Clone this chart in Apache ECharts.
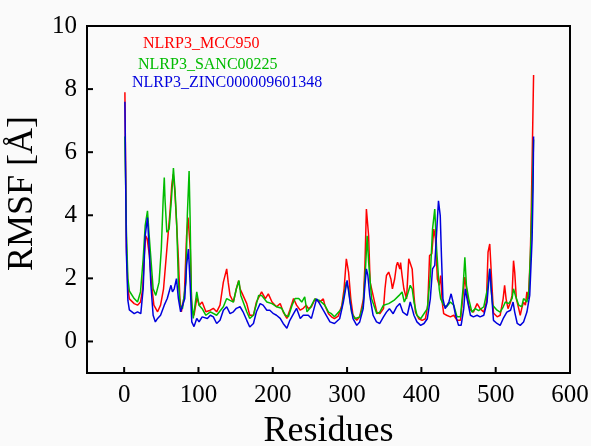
<!DOCTYPE html>
<html>
<head>
<meta charset="utf-8">
<script src="https://cdn.jsdelivr.net/npm/echarts@6/dist/echarts.min.js"></script>
<style>
  html, body { margin: 0; padding: 0; background: #fafafa; }
  #chart { width: 591px; height: 446px; }
</style>
</head>
<body>
<div id="chart"></div>
<script>
// RMSF per residue
var mccRes = [1,3,5,7,9,13.5,18,22,25,27,29,31,34,36,38,40,45,49,53,56,59,62,64,66,68,70,73,75,77,81,84,86,89,91,94,98,101,105,110,116,
  120,124.5,129,133.5,138,140,142.5,147,151,154,156,160,165,169,174,178,185,190,194,199,205,210,214,219,223,228,232,237,241,245,
  248,252,257,259,263,268,270,275,279,283,288,293,296,299,300.6,302,305,308,313,317,322,324,326,327.5,329,331,335,340,344,349,351,353,356,359,361,364,366.5,368,371,
  372,374,376.4,380,383,385,387.6,390,392,396.5,401,405.5,408.6,411,414,416.7,419,421.5,424,426,428,430,434,439,443.6,448,452.6,456,458.5,460.6,463.7,466,470,475,479,484,487.5,489.7,492,494,
  497,502,506,510,512,514,516.6,520,522,524,525.6,527.8,531,533,535,537.5,540,542,544,546.6,548,551];
var mccRmsf = [7.9,3.0,1.7,1.35,1.30,1.2,1.15,1.25,1.67,2.72,3.35,3.25,2.72,2.09,1.57,1.15,0.94,1.15,1.67,2.51,3.35,4.2,4.93,5.3,4.83,4.0,2.62,1.36,0.94,1.46,3.35,3.93,2.93,1.04,0.83,1.4,1.15,1.25,0.94,0.99,
  1.05,0.94,1.15,1.88,2.3,1.88,1.46,1.25,1.67,1.93,1.67,1.46,1.2,0.83,0.83,1.25,1.57,1.36,1.51,1.25,1.1,1.2,0.94,0.73,1.0,1.36,1.15,0.99,1.05,1.15,
  1.04,1.1,1.35,1.4,1.25,1.35,1.15,0.88,0.78,0.72,0.8,1.15,1.67,2.62,2.67,2.2,1.35,0.83,0.67,0.78,1.35,2.41,4.2,4.25,3.35,1.88,1.46,0.93,0.88,1.04,1.67,2.09,2.2,1.98,1.67,1.98,2.41,2.51,2.3,
  2.5,2.09,1.67,1.35,2.62,2.57,2.3,1.46,0.93,0.72,0.67,0.72,1.15,2.72,2.78,3.56,3.25,1.98,1.78,2.09,1.25,0.88,0.83,0.78,0.83,0.67,0.67,1.46,2.04,1.67,1.15,1.0,0.93,1.2,1.04,0.93,1.25,2.83,3.09,2.2,
  0.9,0.78,0.83,1.35,1.78,1.35,1.04,1.25,1.46,2.56,2.2,1.35,1.04,0.83,1.04,1.25,1.15,1.57,1.35,2.72,4.3,8.45];

var sancRes = [1,3,5,7,9,13.5,18,22,25.6,28.3,31.4,33.7,36,39,42.6,47,50,52.5,54,55,57.4,60.5,63.6,66.3,68.6,70.8,73,75.3,78.5,83,85,87.4,88.7,90.5,93,97.7,100.8,105,110,116,
  124.5,133.5,138,142.5,147,151,154.5,157,165,169,174,181,185,192,199,205,212,217,221,226,230,235,239,243,246,250,
  256.7,263,270,275,279,283,292.6,299,302,306,310.5,317,321.7,325,327,329,333,340,344,349,356,363,370,374,377,
  381,385,387.6,390,394,399,408,412,415,418,420.5,424,426,430,434,439,443.6,448,452.6,456,458.5,460.6,463.7,468,472.6,477,484,489,492,494,
  496,501.8,506,510,513,517.5,522,524,526.5,531,535,537.5,542,545,547.5,549.4,551];
var sancRmsf = [6.5,3.5,2.0,1.6,1.57,1.36,1.25,1.57,2.62,3.67,4.14,3.35,2.62,1.67,1.46,1.88,2.93,4.5,5.2,4.5,3.46,3.56,4.5,5.5,4.72,3.67,1.88,1.15,1.04,1.88,3.98,5.4,3.98,1.36,0.73,1.57,1.15,1.04,0.83,0.94,
  0.83,1.1,1.36,1.3,1.25,1.67,1.93,1.46,0.94,0.73,0.83,1.46,1.46,1.25,1.2,1.1,1.05,0.83,0.78,1.15,1.36,1.36,1.25,1.41,0.94,1.05,
  1.35,1.3,1.15,0.93,0.88,0.78,1.04,1.88,1.67,0.93,0.72,0.78,1.15,2.41,3.35,2.51,1.35,0.88,0.93,1.15,1.2,1.3,1.46,1.57,1.25,
  1.46,1.78,1.67,1.25,0.83,0.72,1.04,2.09,3.56,4.2,2.93,1.67,1.35,1.15,1.1,1.25,1.15,0.78,0.78,1.67,2.67,1.78,1.35,0.93,1.04,0.98,1.1,1.67,2.3,1.6,
  1.15,0.99,0.93,1.09,1.25,1.2,1.36,1.67,1.46,1.15,1.1,1.36,1.25,1.67,3.25,4.83,6.4];

var zincRes = [1,3,5,7,9,13.5,18,22.4,25.6,28.3,31.4,33.7,36,39,42,45,49,54,58,63,65,67.4,70.4,73,76,78.5,81.6,84,86.5,88.7,91,94,97.7,100.8,105,112,116,
  120,124.5,129,133.5,138,142.5,147,151,156,160,165,169,174,178,183,187,192,196,201,205,210,214,219,223,228,232,237,241,245,
  247.8,252,259,263,268,272,277,283,290,295,300,304,308,313,317,321.7,324,326,328,330.5,335,339.6,344,349,353,357,362,366.5,371,375,
  376.4,381,385,387.6,390,394,399,403.5,408,412,415,418,420.5,423,425.4,427,429,432,437,440,442.6,446,450,453.5,457,459,461.5,466,470,475,479,484,488.4,492,494,
  497,501.8,506,510,515,520,523.4,525.6,529,533,537.5,540,542,545.8,549,550.3,551];
var zincRmsf = [7.6,2.8,1.3,1.0,0.94,0.88,0.94,0.88,1.67,3.35,3.93,2.93,1.78,0.83,0.62,0.73,0.83,1.15,1.36,1.78,1.57,1.67,1.99,1.36,0.94,0.88,1.36,2.41,2.93,1.88,0.62,0.47,0.73,0.62,0.78,0.73,0.83,
  0.78,0.57,0.67,0.99,1.1,0.88,0.94,1.05,1.1,0.94,0.67,0.46,0.57,0.94,1.2,1.15,0.99,0.99,0.88,0.83,0.73,0.57,0.42,0.67,0.88,1.05,0.73,0.83,0.83,
  0.83,0.73,1.35,1.2,0.99,0.83,0.62,0.57,0.72,1.25,1.94,1.25,0.72,0.51,0.62,1.04,1.78,2.3,2.09,1.46,0.83,0.62,0.57,0.78,0.93,1.04,0.88,1.09,1.2,0.93,
  0.93,0.83,1.25,1.04,0.83,0.62,0.51,0.57,0.72,1.35,2.3,2.41,3.46,4.46,3.98,2.72,1.35,1.04,1.25,1.51,1.25,0.83,0.51,0.51,1.04,1.67,1.35,0.83,0.78,0.83,0.78,0.83,1.25,2.3,1.67,
  0.67,0.57,0.51,0.72,0.93,0.99,1.25,0.93,0.57,0.51,0.62,0.57,0.93,1.46,3.25,4.83,6.5];

// axis ranges and tick values
var xMin = -50, xMax = 600;
var yMin = -1, yMax = 10;
var xTicks = [0, 100, 200, 300, 400, 500, 600];
var yTicks = [0, 2, 4, 6, 8, 10];

function pairs(xs, ys) {
    return xs.map(function (x, i) { return [x, ys[i]]; });
}

var font = '"Liberation Serif", "Times New Roman", serif';
var tickLen = 6;

// inward tick marks, placed through the axes' own scale
function tickSeries(values, horizontal) {
    return {
        type: 'custom', silent: true, clip: false, z: 5,
        data: values.map(function (v) { return horizontal ? [v, yMin] : [xMin, v]; }),
        renderItem: function (params, api) {
            var p = api.coord([api.value(0), api.value(1)]);
            return {
                type: 'line',
                shape: horizontal
                    ? { x1: p[0], y1: p[1], x2: p[0], y2: p[1] - tickLen }
                    : { x1: p[0], y1: p[1], x2: p[0] + tickLen, y2: p[1] },
                style: { stroke: '#000', lineWidth: 2 }
            };
        }
    };
}

var myChart = echarts.init(document.getElementById('chart'));
var option = {
    backgroundColor: '#fafafa',
    animation: false,
    grid: { left: 87, right: 21, top: 26, bottom: 73, outerBoundsMode: 'none',
            show: true, backgroundColor: 'transparent', borderColor: '#000', borderWidth: 2 },
    legend: [
        { data: ['NLRP3_MCC950'], left: 138, top: 36, icon: 'none', itemWidth: 0, itemHeight: 4, padding: 0, selectedMode: false,
          textStyle: { color: '#ff0000', fontFamily: font, fontSize: 16 } },
        { data: ['NLRP3_SANC00225'], left: 133, top: 57, icon: 'none', itemWidth: 0, itemHeight: 4, padding: 0, selectedMode: false,
          textStyle: { color: '#00bb00', fontFamily: font, fontSize: 16 } },
        { data: ['NLRP3_ZINC000009601348'], left: 127, top: 75, icon: 'none', itemWidth: 0, itemHeight: 4, padding: 0, selectedMode: false,
          textStyle: { color: '#0000dd', fontFamily: font, fontSize: 16 } }
    ],
    xAxis: {
        type: 'value', min: xMin, max: xMax,
        name: 'Residues', nameLocation: 'middle', nameGap: 41,
        nameTextStyle: { fontFamily: font, fontSize: 36, color: '#000' },
        axisLine: { onZero: false, lineStyle: { color: '#000', width: 2 } },
        axisTick: { show: false },
        axisLabel: { customValues: xTicks, margin: 10, fontFamily: font, fontSize: 25, color: '#000' },
        splitLine: { show: false }
    },
    yAxis: {
        type: 'value', min: yMin, max: yMax,
        name: 'RMSF [Å]', nameLocation: 'middle', nameGap: 46,
        nameTextStyle: { fontFamily: font, fontSize: 36, color: '#000', padding: [0, 0, 0, 12] },
        axisLine: { onZero: false, lineStyle: { color: '#000', width: 2 } },
        axisTick: { show: false },
        axisLabel: { customValues: yTicks, margin: 10, fontFamily: font, fontSize: 25, color: '#000' },
        splitLine: { show: false }
    },
    series: [
        { name: 'NLRP3_MCC950', type: 'line', showSymbol: false, data: pairs(mccRes, mccRmsf),
          lineStyle: { color: '#ff0000', width: 1.5 }, itemStyle: { color: '#ff0000' } },
        { name: 'NLRP3_SANC00225', type: 'line', showSymbol: false, data: pairs(sancRes, sancRmsf),
          lineStyle: { color: '#00bb00', width: 1.5 }, itemStyle: { color: '#00bb00' } },
        { name: 'NLRP3_ZINC000009601348', type: 'line', showSymbol: false, data: pairs(zincRes, zincRmsf),
          lineStyle: { color: '#0000dd', width: 1.5 }, itemStyle: { color: '#0000dd' } },
        tickSeries(xTicks, true),
        tickSeries(yTicks, false)
    ]
};
myChart.setOption(option);
</script>
</body>
</html>
